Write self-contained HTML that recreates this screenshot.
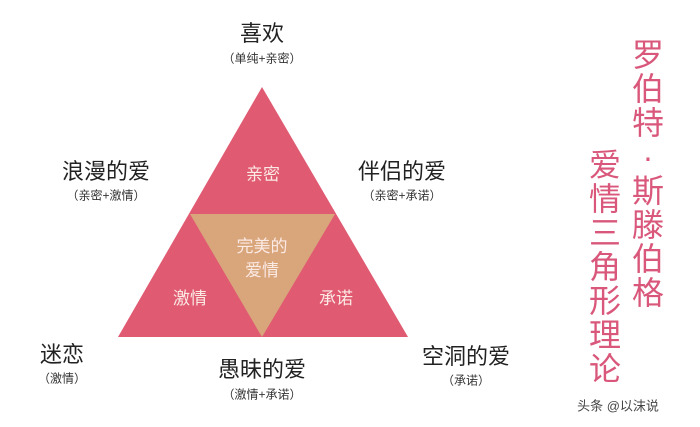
<!DOCTYPE html>
<html><head><meta charset="utf-8"><style>
body{margin:0;width:700px;height:427px;background:#fff;overflow:hidden;position:relative;font-family:"Liberation Sans","Noto Sans CJK SC",sans-serif;}
.t{position:absolute;transform:translate(-50%,-50%);white-space:nowrap;color:#222;}
.b{font-size:22px;}
.s{font-size:12px;color:#333;}
.col{position:absolute;width:36px;font-size:32px;line-height:34px;color:#d9577a;text-align:center;}
</style></head><body>
<svg width="700" height="427" style="position:absolute;left:0;top:0">
<polygon points="262,87 118,337 408,337" fill="#e05a72"/>
<polygon points="190,214 335,214 262,337" fill="#d9a57b"/>
<g font-family="Liberation Sans,Noto Sans CJK SC,sans-serif" fill="#fbe9e4" font-size="17" text-anchor="middle">
<text x="263" y="180">亲密</text>
<text x="262" y="252">完美的</text>
<text x="262" y="276">爱情</text>
<text x="190" y="304">激情</text>
<text x="336" y="304">承诺</text>
</g>
</svg>
<div class="t b" style="left:262px;top:32px">喜欢</div>
<div class="t s" style="left:262px;top:58px">（单纯+亲密）</div>
<div class="t b" style="left:106px;top:170px">浪漫的爱</div>
<div class="t s" style="left:106px;top:195px">（亲密+激情）</div>
<div class="t b" style="left:402px;top:170px">伴侣的爱</div>
<div class="t s" style="left:402px;top:195px">（亲密+承诺）</div>
<div class="t b" style="left:62px;top:353px">迷恋</div>
<div class="t s" style="left:62px;top:378px">（激情）</div>
<div class="t b" style="left:262px;top:368px">愚昧的爱</div>
<div class="t s" style="left:262px;top:394px">（激情+承诺）</div>
<div class="t b" style="left:466px;top:355px">空洞的爱</div>
<div class="t s" style="left:466px;top:380px">（承诺）</div>
<div class="col" style="left:630px;top:38px">罗<br>伯<br>特<br>·<br>斯<br>滕<br>伯<br>格</div>
<div class="col" style="left:587px;top:148px">爱<br>情<br>三<br>角<br>形<br>理<br>论</div>
<div class="t" style="left:618px;top:405px;font-size:13px;color:#444">头条 @以沫说</div>
</body></html>
